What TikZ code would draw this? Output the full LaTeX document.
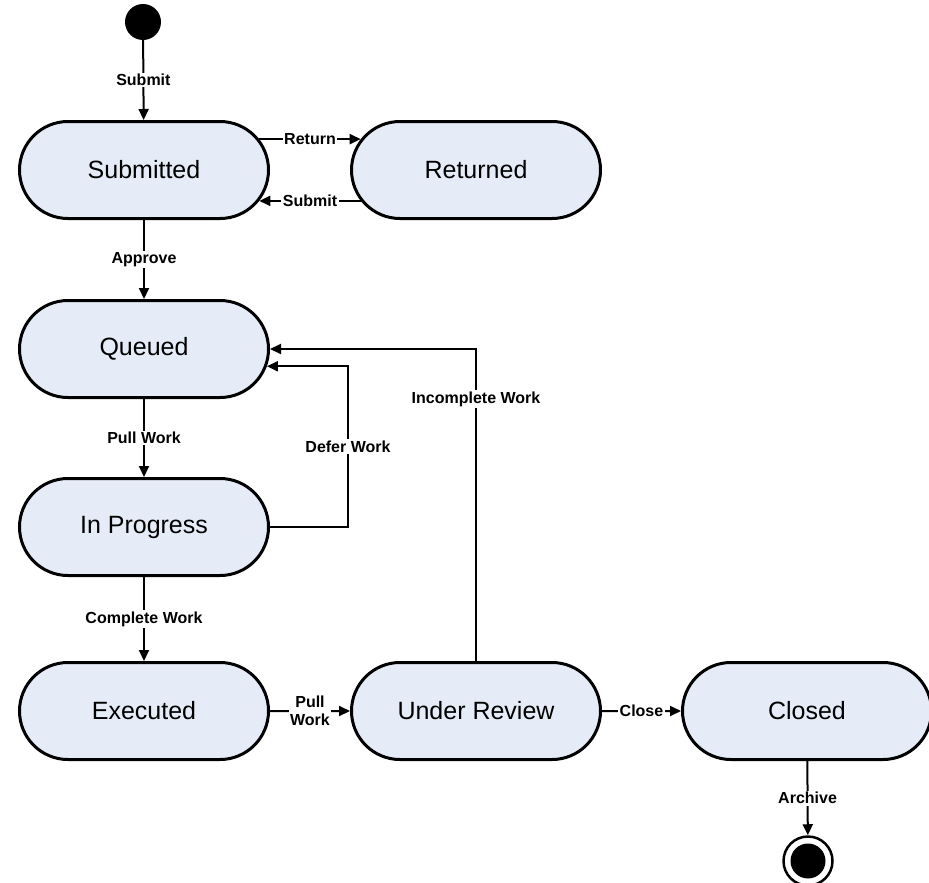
\documentclass[tikz,border=0pt]{standalone}
\usepackage{fontspec}
\setmainfont{Liberation Sans}
\usetikzlibrary{shapes.misc,arrows.meta}

\definecolor{statefill}{RGB}{230,236,247}

\begin{document}
\begin{tikzpicture}[x=1pt,y=-1pt]

\tikzset{StateStyle/.style = {rounded rectangle, draw=black, line width=3pt,
                               fill=statefill, minimum width=249pt,
                               minimum height=97pt, inner sep=0pt,
                               font=\fontsize{25}{28}\selectfont}}
\tikzset{EdgeStyle/.style  = {line width=2pt, -{Triangle[length=11pt,width=10pt]}}}
\tikzset{LabelStyle/.style = {fill=white, inner sep=1.5pt,
                               font=\bfseries\fontsize{16}{19}\selectfont}}

\useasboundingbox (0,0) rectangle (929,883);

\node[circle, fill=black, minimum size=36pt, inner sep=0pt] (start) at (143,22) {};

\node[StateStyle] (Submitted)   at (144,170) {Submitted};
\node[StateStyle] (Returned)    at (476,170) {Returned};
\node[StateStyle] (Queued)      at (144,349) {Queued};
\node[StateStyle] (InProgress)  at (144,527) {In Progress};
\node[StateStyle] (Executed)    at (144,711) {Executed};
\node[StateStyle] (UnderReview) at (476,711) {Under Review};
\node[StateStyle] (Closed)      at (807,711) {Closed};

\node[circle, draw=black, line width=2.5pt, minimum size=49pt, inner sep=0pt] (end) at (808,861) {};
\node[circle, fill=black, minimum size=35pt, inner sep=0pt] (endDot) at (808,861) {};

\draw[EdgeStyle] (start) -- node[LabelStyle]{Submit} (Submitted);
\draw[EdgeStyle] (Submitted.15) -- node[LabelStyle]{Return} (Returned.165);
\draw[EdgeStyle] (Returned.195) -- node[LabelStyle]{Submit} (Submitted.-15);
\draw[EdgeStyle] (Submitted) -- node[LabelStyle]{Approve} (Queued);
\draw[EdgeStyle] (Queued) -- node[LabelStyle]{Pull Work} (InProgress);
\draw[EdgeStyle] (InProgress.east) -- ++(78,0) |- node[LabelStyle,pos=0.25]{Defer Work} (Queued.-8);
\draw[EdgeStyle] (UnderReview.north) |- node[LabelStyle,pos=0.42]{Incomplete Work} (Queued.east);
\draw[EdgeStyle] (InProgress) -- node[LabelStyle]{Complete Work} (Executed);
\draw[EdgeStyle] (Executed) -- node[LabelStyle,align=center]{Pull\\[-1pt]Work} (UnderReview);
\draw[EdgeStyle] (UnderReview) -- node[LabelStyle]{Close} (Closed);
\draw[EdgeStyle] (Closed) -- node[LabelStyle]{Archive} (end);

\end{tikzpicture}
\end{document}
